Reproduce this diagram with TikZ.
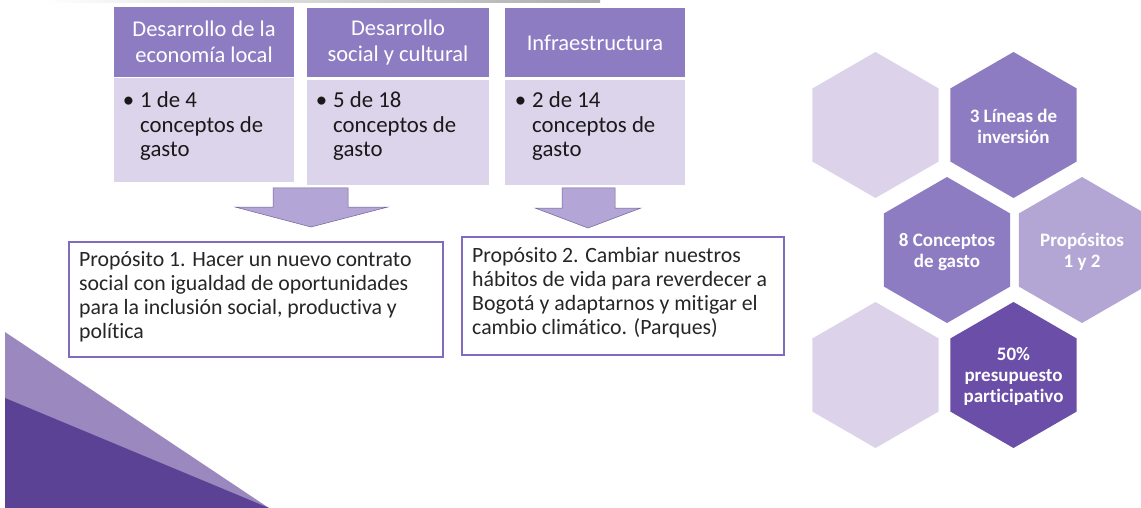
\documentclass[tikz,border=0pt]{standalone}
\usepackage{fontspec}
\setmainfont{Carlito}[Ligatures=NoCommon]
\definecolor{hdr}{HTML}{8E7CC3}
\definecolor{bodyc}{HTML}{DCD4EA}
\definecolor{arrowc}{HTML}{B3A6D6}
\definecolor{arrowb}{HTML}{6E6399}
\definecolor{boxb}{HTML}{7F6CC0}
\definecolor{hexlight}{HTML}{DCD3EA}
\definecolor{hexmid}{HTML}{8E7CC3}
\definecolor{hexpale}{HTML}{B3A6D4}
\definecolor{hexdark}{HTML}{6A4EA8}
\definecolor{trilight}{HTML}{9A88BE}
\definecolor{tridark}{HTML}{5C4294}
\begin{document}
\begin{tikzpicture}[x=1pt,y=-1pt,
 hdrbox/.style={rectangle, fill=hdr, minimum width=180pt, minimum height=70pt, inner sep=0pt, text=white, align=center, font=\fontsize{22.5}{25.5}\selectfont},
 bodybox/.style={rectangle, fill=bodyc, minimum width=180pt, inner sep=0pt},
 bodytxt/.style={anchor=base west, inner sep=0pt, font=\fontsize{22.8}{24.5}\selectfont, text=black!90},
 purpbox/.style={rectangle, draw=boxb, line width=1.3pt, fill=white, inner sep=0pt},
 purptxt/.style={anchor=base west, inner sep=0pt, font=\fontsize{21.8}{24.2}\selectfont, text=black!85},
 hextxt/.style={inner sep=0pt, text=white, align=center, font=\bfseries\fontsize{19}{21}\selectfont},
 blockarrow/.style={fill=arrowc, draw=arrowb, line width=0.5pt, line join=miter}
]
\useasboundingbox (0,0) rectangle (1141,508);
\fill[white] (0,0) rectangle (1141,508);
% faint shadow at top
\shade[left color=white, right color=gray!65] (40,0) rectangle (600,2.5);

% triangles bottom-left
\fill[trilight] (5,332) -- (5,508) -- (269,508) -- cycle;
\fill[tridark] (5,398) -- (5,508) -- (269,508) -- cycle;

% headers
\node[hdrbox] (h1) at (204,42) {Desarrollo de la\\economía local};
\node[hdrbox, minimum width=182pt, minimum height=69pt] (h2) at (398,42.5) {Desarrollo\\social y cultural};
\node[hdrbox, minimum height=69pt] (h3) at (595,42.5) {Infraestructura};

% bodies
\node[bodybox, minimum height=104pt] (b1) at (204,130) {};
\node[bodybox, minimum width=182pt, minimum height=105pt] (b2) at (398,132.5) {};
\node[bodybox, minimum height=105pt] (b3) at (595,132.5) {};

\node[bodytxt] (t1) at (140,108) {\parbox[t]{150pt}{\raggedright\leavevmode\llap{•\hspace{6pt}}1 de 4\\conceptos de\\gasto}};
\node[bodytxt] (t2) at (333,108) {\parbox[t]{150pt}{\raggedright\leavevmode\llap{•\hspace{6pt}}5 de 18\\conceptos de\\gasto}};
\node[bodytxt] (t3) at (532,108) {\parbox[t]{150pt}{\raggedright\leavevmode\llap{•\hspace{6pt}}2 de 14\\conceptos de\\gasto}};

% block arrows
\draw[blockarrow] (273,188) -- (348,188) -- (348,207) -- (388,207) -- (311,227) -- (235,207) -- (273,207) -- cycle;
\draw[blockarrow] (562,188) -- (615,188) -- (615,208) -- (641,208) -- (588,228) -- (535,208) -- (562,208) -- cycle;

% proposito boxes
\node[purpbox, minimum width=374pt, minimum height=115pt] (p1) at (256,299.5) {};
\node[purpbox, minimum width=322pt, minimum height=118pt] (p2) at (623,296) {};
\node[purptxt] (pt1) at (79,266) {\parbox[t]{360pt}{\raggedright Propósito 1. Hacer un nuevo contrato\\social con igualdad de oportunidades\\para la inclusión social, productiva y\\política}};
\node[purptxt] (pt2) at (472,262) {\parbox[t]{310pt}{\raggedright Propósito 2. Cambiar nuestros\\hábitos de vida para reverdecer a\\Bogotá y adaptarnos y mitigar el\\cambio climático. (Parques)}};

% hexagons
\foreach \c/\col in {{875.5,125}/hexlight, {1013.5,125}/hexmid, {947,250}/hexmid, {1082,250}/hexpale, {875.5,375}/hexlight, {1013.5,375}/hexdark}{
  \fill[\col] (\c) +(90:73) -- +(30:73) -- +(-30:73) -- +(-90:73) -- +(-150:73) -- +(150:73) -- cycle;
}
\node[hextxt] (x2) at (1013.5,126) {3 Líneas de\\inversión};
\node[hextxt] (x3) at (947,252) {8 Conceptos\\de gasto};
\node[hextxt] (x4) at (1082,252) {Propósitos\\1 y 2};
\node[hextxt] (x6) at (1013.5,376) {50\%\\presupuesto\\participativo};
\end{tikzpicture}
\end{document}
